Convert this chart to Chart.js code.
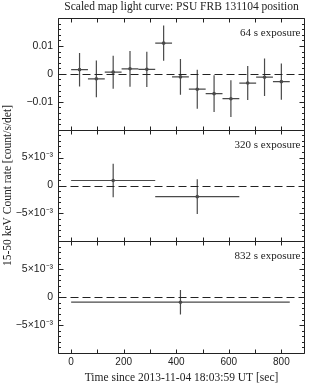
<!DOCTYPE html>
<html lang="en">
<head>
<meta charset="UTF-8">
<title>Scaled map light curve: PSU FRB 131104 position</title>
<style>
  body { margin: 0; padding: 0; background: #fff; }
  .container { width: 309px; height: 385px; }
</style>
<script src="https://cdn.jsdelivr.net/npm/chart.js"></script>
</head>
<body>
<div class="container"><canvas id="lc"></canvas></div>
<script>
// 64 s exposure bins (centre time [s], rate, 1-sigma error)
const t64 = [32, 96, 160, 224, 288, 352, 416, 480, 544, 608, 672, 736, 800];
const rate64 = [0.0015, -0.0018, 0.0006, 0.0018, 0.0016, 0.0110, -0.0011, -0.0055, -0.0071, -0.0089, -0.0033, -0.0012, -0.0028];
const err64 = [0.0060, 0.0066, 0.0059, 0.0064, 0.0063, 0.0063, 0.0064, 0.0070, 0.0066, 0.0066, 0.0061, 0.0067, 0.0065];
const half64 = 32;

// 320 s exposure bins
const t320 = [160, 480];
const rate320 = [0.0009, -0.0020];
const err320 = [0.0030, 0.0031];
const half320 = 160;

// 832 s exposure bin
const t832 = [416];
const rate832 = [-0.0009];
const err832 = [0.0022];
const half832 = 416;

// axis ticks and labels
const xTicks = [0, 200, 400, 600, 800];
const xMinorTicks = [0, 100, 200, 300, 400, 500, 600, 700, 800];
const yTicksTop = [-0.01, 0, 0.01];
const yLabelsTop = ['\u22120.01', '0', '0.01'];
const yTicksSmall = [-0.005, 0, 0.005];
const yLabelsSmall = ['\u22125\u00d710\u207b\u00b3', '0', '5\u00d710\u207b\u00b3'];
const panelLabels = ['64 s exposure', '320 s exposure', '832 s exposure'];

const serif = '"Liberation Serif", "DejaVu Serif", serif';
const sans = '"Liberation Sans", Arial, sans-serif';
const ink = '#222';
const barColor = '#4a4a4a';

function points(t, r) {
    return t.map((x, i) => ({ x: x, y: r[i] }));
}

function yAxis(lim, ticks, labels, minor, major, w, label) {
    return {
        type: 'linear',
        position: 'left',
        stack: 'panels',
        stackWeight: 1,
        weight: w,
        min: -lim,
        max: lim,
        minorStep: minor,
        majorStep: major,
        panelLabel: label,
        afterBuildTicks: (scale) => { scale.ticks = ticks.map(v => ({ value: v })); },
        afterFit: (scale) => { scale.width = 58; },
        grid: { display: false, drawTicks: false },
        border: { display: false },
        ticks: {
            autoSkip: false,
            padding: 5,
            color: ink,
            font: { family: sans, size: 10.5 },
            callback: (v, i) => labels[i]
        }
    };
}

// frames, inward ticks, zero lines, error bars and titles
const framePlugin = {
    id: 'frames',
    beforeDatasetsDraw(chart) {
        const c = chart.ctx;
        const xs = chart.scales.x;
        c.save();
        c.strokeStyle = barColor;
        c.lineWidth = 1.2;
        chart.data.datasets.forEach((ds) => {
            const ys = chart.scales[ds.yAxisID];
            ds.data.forEach((p, i) => {
                const px = xs.getPixelForValue(p.x);
                const py = ys.getPixelForValue(p.y);
                c.beginPath();
                c.moveTo(xs.getPixelForValue(p.x - ds.half), py);
                c.lineTo(xs.getPixelForValue(p.x + ds.half), py);
                c.moveTo(px, ys.getPixelForValue(p.y + ds.err[i]));
                c.lineTo(px, ys.getPixelForValue(p.y - ds.err[i]));
                c.stroke();
            });
        });
        c.restore();
    },
    afterDraw(chart) {
        const c = chart.ctx;
        const a = chart.chartArea;
        const xs = chart.scales.x;
        const left = Math.round(a.left) + 0.5;
        const right = Math.round(a.right) - 0.5;
        c.save();
        c.strokeStyle = ink;
        c.lineWidth = 1;
        ['y1', 'y2', 'y3'].forEach((id) => {
            const ys = chart.scales[id];
            const o = ys.options;
            const top = Math.round(ys.top) + 0.5;
            const bot = Math.round(ys.bottom) + 0.5;
            c.beginPath();
            c.moveTo(left, top); c.lineTo(right, top);
            c.lineTo(right, bot); c.lineTo(left, bot); c.closePath();
            xMinorTicks.forEach((v) => {
                const px = Math.round(xs.getPixelForValue(v)) + 0.5;
                c.moveTo(px, top); c.lineTo(px, top + 4);
                c.moveTo(px, bot); c.lineTo(px, bot - 4);
            });
            for (let v = -o.max; v <= o.max + 1e-9; v += o.minorStep) {
                const py = Math.round(ys.getPixelForValue(v)) + 0.5;
                const isMajor = Math.abs(v / o.majorStep - Math.round(v / o.majorStep)) < 1e-6;
                const len = isMajor ? 5 : 2.5;
                c.moveTo(left, py); c.lineTo(left + len, py);
                c.moveTo(right, py); c.lineTo(right - len, py);
            }
            c.stroke();
            // zero line
            const zy = Math.round(ys.getPixelForValue(0)) + 0.5;
            c.setLineDash([8, 4]);
            c.beginPath();
            c.moveTo(left, zy);
            c.lineTo(right, zy);
            c.stroke();
            c.setLineDash([]);
            // panel label
            c.fillStyle = ink;
            c.font = '11px ' + serif;
            c.textAlign = 'right';
            c.textBaseline = 'middle';
            c.fillText(o.panelLabel, right - 4, top + 15);
        });
        c.fillStyle = ink;
        c.font = '11.5px ' + serif;
        c.textAlign = 'center';
        c.textBaseline = 'middle';
        c.fillText('Scaled map light curve: PSU FRB 131104 position', (a.left + a.right) / 2, 7);
        c.translate(7.5, (a.top + a.bottom) / 2);
        c.rotate(-Math.PI / 2);
        c.fillText('15-50 keV Count rate [count/s/det]', 0, 0);
        c.restore();
    }
};

const ctx = document.getElementById('lc').getContext('2d');
new Chart(ctx, {
    type: 'scatter',
    data: {
        datasets: [
            { label: '64 s', data: points(t64, rate64), err: err64, half: half64, yAxisID: 'y1' },
            { label: '320 s', data: points(t320, rate320), err: err320, half: half320, yAxisID: 'y2' },
            { label: '832 s', data: points(t832, rate832), err: err832, half: half832, yAxisID: 'y3' }
        ].map(d => Object.assign(d, {
            pointRadius: 1.8,
            pointBackgroundColor: barColor,
            pointBorderWidth: 0,
            showLine: false
        }))
    },
    options: {
        responsive: true,
        maintainAspectRatio: false,
        animation: false,
        layout: { padding: { top: 18, right: 2.5, bottom: 0, left: 0 } },
        plugins: { legend: { display: false }, tooltip: { enabled: false } },
        scales: {
            x: {
                type: 'linear',
                position: 'bottom',
                min: -50,
                max: 890,
                afterBuildTicks: (scale) => { scale.ticks = xTicks.map(v => ({ value: v })); },
                afterFit: (scale) => { scale.height = 32; },
                grid: { display: false, drawTicks: false },
                border: { display: false },
                ticks: { autoSkip: false, maxRotation: 0, padding: 3, color: ink, font: { family: sans, size: 10 } },
                title: {
                    display: true,
                    text: 'Time since 2013-11-04 18:03:59 UT [sec]',
                    color: ink,
                    font: { family: serif, size: 11.5 },
                    padding: { top: 1, bottom: 0 }
                }
            },
            y1: yAxis(0.02, yTicksTop, yLabelsTop, 0.002, 0.01, 3, panelLabels[0]),
            y2: yAxis(0.01, yTicksSmall, yLabelsSmall, 0.001, 0.005, 2, panelLabels[1]),
            y3: yAxis(0.01, yTicksSmall, yLabelsSmall, 0.001, 0.005, 1, panelLabels[2])
        }
    },
    plugins: [framePlugin]
});
</script>
</body>
</html>
